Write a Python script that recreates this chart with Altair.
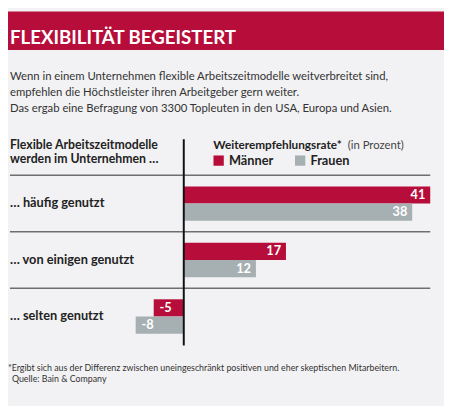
import altair as alt
import pandas as pd

# ---- data ----
categories = ["… häufig genutzt", "… von einigen genutzt", "… selten genutzt"]
series = ["Männer", "Frauen"]
maenner = [41, 17, -5]
frauen = [38, 12, -8]
colors = ["#b70d3a", "#a6afb1"]

title_text = "FLEXIBILITÄT BEGEISTERT"
intro_lines = [
    "Wenn in einem Unternehmen flexible Arbeitszeitmodelle weitverbreitet sind,",
    "empfehlen die Höchstleister ihren Arbeitgeber gern weiter.",
    "Das ergab eine Befragung von 3300 Topleuten in den USA, Europa und Asien.",
]
left_header = ["Flexible Arbeitszeitmodelle", "werden im Unternehmen …"]
right_header_bold = "Weiterempfehlungsrate*"
right_header_normal = "(in Prozent)"
footnote_lines = [
    "*Ergibt sich aus der Differenz zwischen uneingeschränkt positiven und eher skeptischen Mitarbeitern.",
    "Quelle: Bain & Company",
]

rows = []
for c, m, f in zip(categories, maenner, frauen):
    rows.append({"cat": c, "series": series[0], "val": m})
    rows.append({"cat": c, "series": series[1], "val": f})
df = pd.DataFrame(rows)
df_cat = pd.DataFrame({"cat": categories})

FONT = "Lato"
BG = "#f2f2f4"

xscale = alt.Scale(domain=[-29.24, 43.29], range=[0, 444], nice=False, zero=False)
yscale = alt.Scale(domain=categories, range=[178, 328], paddingInner=0.391, paddingOuter=0)
yoff_scale = alt.Scale(domain=series, paddingInner=0, paddingOuter=0)
cscale = alt.Scale(domain=series, range=colors)

X = alt.X("val:Q", scale=xscale, axis=None)
Y = alt.Y("cat:N", scale=yscale, axis=None, sort=categories)
YO = alt.YOffset("series:N", scale=yoff_scale, sort=series)

bars = alt.Chart(df).mark_bar(cornerRadius=0).encode(
    x=X,
    x2=alt.datum(0),
    y=Y,
    yOffset=YO,
    color=alt.Color(
        "series:N",
        scale=cscale,
        sort=series,
        legend=alt.Legend(
            orient="none", legendX=208, legendY=145, direction="horizontal",
            title=None, symbolType="square", symbolSize=110, symbolStrokeWidth=0,
            symbolOpacity=1, labelFont=FONT, labelFontSize=13, labelFontWeight="bold",
            labelColor="#222", labelOffset=4, columnPadding=20, padding=0,
        ),
    ),
)

base_lbl = alt.Chart(df).transform_calculate(lbl="toString(datum.val)")

pos_labels = base_lbl.transform_filter("datum.val >= 0").mark_text(
    align="right", baseline="middle", dx=-5, font=FONT, fontSize=13,
    fontWeight="bold", color="white",
).encode(x=X, y=Y, yOffset=YO, text="lbl:N")

neg_labels = base_lbl.transform_filter("datum.val < 0").mark_text(
    align="left", baseline="middle", dx=6, font=FONT, fontSize=13,
    fontWeight="bold", color="white",
).encode(x=X, y=Y, yOffset=YO, text="lbl:N")

cat_labels = alt.Chart(df_cat).mark_text(
    align="left", baseline="middle", font=FONT, fontSize=13, fontWeight="bold", color="#222",
).encode(x=alt.value(2), y=Y, text="cat:N")

separators = alt.Chart(df_cat).mark_rule(
    color="#6e6e6e", strokeWidth=1.6, yOffset=-11.25
).encode(
    y=alt.Y("cat:N", scale=yscale, axis=None, sort=categories, bandPosition=0),
    x=alt.value(2), x2=alt.value(430),
)

zero_line = alt.Chart(pd.DataFrame({"z": [0]})).mark_rule(
    color="#111", strokeWidth=2
).encode(
    x=alt.X("z:Q", scale=xscale, axis=None),
    y=alt.value(130), y2=alt.value(340),
)

one = pd.DataFrame({"a": [0]})

header = alt.Chart(one).mark_rect(color="#b70d3a").encode(
    x=alt.value(0), x2=alt.value(444), y=alt.value(0), y2=alt.value(39)
)


def txt(t, x, y, size, weight="normal", color="#222", align="left"):
    return alt.Chart(pd.DataFrame({"t": [t]})).mark_text(
        align=align, baseline="alphabetic", font=FONT, fontSize=size,
        fontWeight=weight, color=color,
    ).encode(x=alt.value(x), y=alt.value(y), text="t:N")


texts = [
    txt(title_text, 2, 33, 19, "bold", "white"),
    txt(intro_lines[0], 2, 70, 11.5, "normal", "#333"),
    txt(intro_lines[1], 2, 86, 11.5, "normal", "#333"),
    txt(intro_lines[2], 2, 102, 11.5, "normal", "#333"),
    txt(left_header[0], 2, 140, 12.5, "bold"),
    txt(left_header[1], 2, 154, 12.5, "bold"),
    txt(right_header_bold, 209, 140, 12, "bold"),
    txt(right_header_normal, 346, 140, 11.5, "normal", "#444"),
    txt(footnote_lines[0], 0, 366.5, 9, "normal", "#333"),
    txt(footnote_lines[1], 4, 377, 9, "normal", "#333"),
]

chart = alt.layer(
    header, separators, bars, zero_line, pos_labels, neg_labels, cat_labels, *texts
).properties(
    width=444, height=398, padding=0, autosize="none", background=BG
).configure_view(stroke=None)

chart.save("out.html", embed_options={"renderer": "svg", "actions": False})
